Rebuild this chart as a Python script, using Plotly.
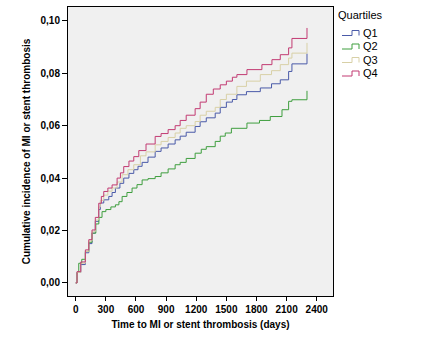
import plotly.graph_objects as go

# ---- data (days, cumulative incidence) ----
q1_days = [0, 13, 50, 96, 130, 162, 195, 229, 245, 279, 329, 362, 395, 440, 478, 530, 578, 620, 661, 720, 791, 850, 920, 990, 1040, 1100, 1189, 1239, 1300, 1389, 1439, 1500, 1560, 1605, 1700, 1838, 1950, 2037, 2120, 2153, 2303]
q1_vals = [0, 0.004, 0.007, 0.0115, 0.015, 0.019, 0.0235, 0.028, 0.0305, 0.0317, 0.033, 0.0345, 0.0362, 0.038, 0.040, 0.0418, 0.0432, 0.0445, 0.046, 0.048, 0.0502, 0.0515, 0.053, 0.0546, 0.056, 0.0575, 0.0597, 0.0615, 0.063, 0.0648, 0.067, 0.069, 0.070, 0.0718, 0.073, 0.0744, 0.076, 0.0775, 0.0807, 0.0836, 0.0875]

q2_days = [0, 13, 30, 60, 96, 130, 162, 200, 230, 262, 300, 350, 395, 430, 462, 510, 561, 610, 661, 720, 791, 850, 920, 990, 1040, 1100, 1189, 1250, 1300, 1389, 1439, 1489, 1550, 1705, 1830, 1937, 2054, 2120, 2153, 2303]
q2_vals = [0, 0.004, 0.0075, 0.009, 0.012, 0.0155, 0.019, 0.0225, 0.025, 0.0272, 0.028, 0.029, 0.0298, 0.031, 0.033, 0.0345, 0.0362, 0.0375, 0.0393, 0.0398, 0.0406, 0.042, 0.0435, 0.0451, 0.046, 0.0475, 0.0495, 0.051, 0.052, 0.054, 0.056, 0.0572, 0.059, 0.061, 0.062, 0.0635, 0.0661, 0.0693, 0.0699, 0.0733]

q3_days = [0, 13, 50, 96, 130, 162, 195, 229, 245, 279, 320, 362, 412, 462, 520, 578, 644, 700, 791, 850, 920, 990, 1040, 1100, 1189, 1239, 1300, 1389, 1439, 1500, 1605, 1700, 1838, 1950, 2037, 2120, 2153, 2303]
q3_vals = [0, 0.004, 0.0075, 0.012, 0.016, 0.0195, 0.024, 0.029, 0.0315, 0.0335, 0.035, 0.0362, 0.0385, 0.0413, 0.0432, 0.0451, 0.0485, 0.050, 0.0527, 0.054, 0.0555, 0.0572, 0.059, 0.060, 0.0616, 0.064, 0.0655, 0.067, 0.070, 0.072, 0.075, 0.077, 0.0795, 0.081, 0.0833, 0.0858, 0.0877, 0.0916]

q4_days = [0, 13, 50, 96, 130, 162, 195, 229, 255, 279, 320, 362, 412, 445, 478, 530, 578, 628, 700, 791, 850, 920, 990, 1040, 1100, 1189, 1239, 1300, 1370, 1439, 1500, 1560, 1605, 1705, 1854, 1954, 2037, 2120, 2153, 2303]
q4_vals = [0, 0.0043, 0.008, 0.0126, 0.0165, 0.0202, 0.025, 0.0304, 0.033, 0.0349, 0.0362, 0.0374, 0.040, 0.042, 0.0444, 0.0465, 0.0482, 0.0505, 0.053, 0.0559, 0.057, 0.0585, 0.060, 0.062, 0.064, 0.0665, 0.069, 0.072, 0.074, 0.0756, 0.077, 0.0785, 0.0795, 0.0814, 0.0833, 0.0852, 0.0871, 0.0897, 0.0933, 0.0973]

names = ["Q1", "Q2", "Q3", "Q4"]
colors = ["#4a5aa8", "#3e9e3e", "#d8d0a6", "#c23a72"]
x_ticks = [0, 300, 600, 900, 1200, 1500, 1800, 2100, 2400]
y_ticks = [0.00, 0.02, 0.04, 0.06, 0.08, 0.10]
y_tick_labels = ["0,00", "0,02", "0,04", "0,06", "0,08", "0,10"]

series = [(q1_days, q1_vals), (q2_days, q2_vals), (q3_days, q3_vals), (q4_days, q4_vals)]

fig = go.Figure()
for (d, v), n, c in zip(series, names, colors):
    fig.add_trace(go.Scatter(x=d, y=v, mode="lines", name=n,
                             line=dict(color=c, width=1, shape="hv"),
                             showlegend=False))

L, R, T, B = 68, 333, 7, 296
W, H = 425, 341

def px(xp):
    return (xp - L) / (R - L)

def py(yp):
    return (B - yp) / (B - T)

font_family = "Liberation Sans, Arial, sans-serif"
annotations = [dict(x=px(336), y=py(15), xref="paper", yref="paper", text="Quartiles",
                    showarrow=False, xanchor="left", yanchor="middle",
                    font=dict(family=font_family, size=11, color="black"))]
shapes = []
ys = [33, 46.5, 60, 73.5]
for n, c, yy in zip(names, colors, ys):
    annotations.append(dict(x=px(361), y=py(yy), xref="paper", yref="paper", text=n,
                            showarrow=False, xanchor="left", yanchor="middle",
                            font=dict(family=font_family, size=11, color="black")))
    x0, x1, x2 = px(342), px(352), px(359)
    ylo, yhi = py(yy + 2.5), py(yy - 2.5)
    shapes.append(dict(type="path", xref="paper", yref="paper",
                       path=f"M {x0},{ylo} L {x1},{ylo} L {x1},{yhi} L {x2},{yhi} L {x2},{ylo}",
                       line=dict(color=c, width=1)))

fig.update_layout(
    width=W, height=H,
    margin=dict(l=L, r=W - R, t=T, b=H - B),
    paper_bgcolor="white", plot_bgcolor="#f0f0f0",
    separators=",.",
    font=dict(family=font_family, size=10, color="black"),
    annotations=annotations, shapes=shapes,
    xaxis=dict(range=[-77, 2562], tickvals=x_ticks, ticktext=[f"<b>{t}</b>" for t in x_ticks],
               showgrid=False, zeroline=False, ticks="outside", ticklen=4, tickcolor="black",
               showline=True, linecolor="black", linewidth=1, mirror=True,
               tickfont=dict(size=10, family=font_family),
               title=dict(text="<b>Time to MI or stent thrombosis (days)</b>", standoff=6,
                          font=dict(size=10, family=font_family))),
    yaxis=dict(range=[-0.005, 0.1053], tickvals=y_ticks, ticktext=[f"<b>{t}</b>" for t in y_tick_labels],
               showgrid=False, zeroline=False, ticks="outside", ticklen=5, tickcolor="black",
               showline=True, linecolor="black", linewidth=1, mirror=True,
               tickfont=dict(size=10, family=font_family),
               title=dict(text="<b>Cumulative incidence of MI or stent thrombosis</b>", standoff=8,
                          font=dict(size=10, family=font_family))),
)

fig.write_html("out.html", config={"displayModeBar": False},
               post_script="document.body.style.margin='0';")
